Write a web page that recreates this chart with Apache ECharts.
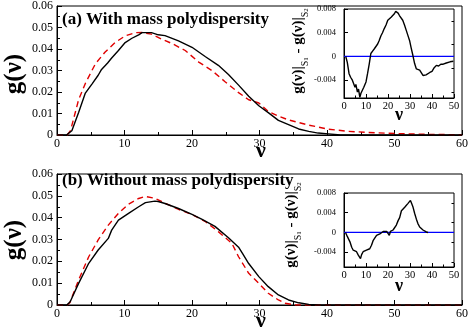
<!DOCTYPE html>
<html><head><meta charset="utf-8">
<script src="https://cdn.jsdelivr.net/npm/echarts@6/dist/echarts.min.js"></script>
<style>html,body{margin:0;padding:0;background:#fff}#c{width:471px;height:332px}</style>
</head><body><div id="c"></div>
<script>
// ---- data ----
const topBlackV = [0,1.4,2.2,3.2,4.2,5.2,6.1,6.6,7.5,8.1,9.1,10.1,11.1,12.1,12.6,14,15,16,18,20,22,23.9,25.4,26.9,28.4,29.9,31.3,32.8,34.3,35.8,37.3,38.7,40.2,42,60];
const topBlackG = [0,0,0.002,0.0105,0.0195,0.0238,0.0278,0.0305,0.0335,0.0358,0.0393,0.043,0.045,0.0466,0.0476,0.0476,0.0466,0.0462,0.0438,0.0408,0.0364,0.0324,0.0281,0.0232,0.018,0.0136,0.0104,0.0068,0.0048,0.0028,0.0017,0.0009,0.0005,0,0];
const topRedV = [0,1.5,2.0,3.2,4.2,5.7,7.1,8.6,10.1,11.6,12.6,14,15.5,17,19,21,22.9,24.9,26.9,28.4,29.9,31.3,32.8,34.3,37.3,40.2,43.2,46.1,49.1,52,55,60];
const topRedG = [0,0,0.002,0.0164,0.024,0.0332,0.0385,0.043,0.0461,0.0476,0.0477,0.0469,0.0446,0.0426,0.0393,0.0339,0.0301,0.0248,0.0197,0.0164,0.0149,0.011,0.0088,0.007,0.0046,0.0027,0.0017,0.0012,0.0008,0.0005,0.0003,0.0001];
const botBlackV = [0,1.45,1.95,3.2,4.7,6.1,7.6,8.1,9.1,10.6,12.1,13.1,14.5,15,16,18,20,21.5,23.4,25.4,26.9,27.5,28.4,29.9,31.3,32.8,34.3,35.8,37.3,38.7,60];
const botBlackG = [0,0,0.0015,0.0099,0.0191,0.0252,0.0305,0.0343,0.0389,0.042,0.045,0.0469,0.0476,0.0474,0.0465,0.0442,0.0415,0.0392,0.036,0.0308,0.0265,0.0235,0.019,0.013,0.0084,0.0046,0.0023,0.001,0.0003,0,0];
const botRedV = [0,1.5,1.9,3.2,4.7,6.1,7.6,9.1,10.6,12.1,13.1,14.5,16,18,20,22,23.9,25.9,26.9,28.4,29.9,31.3,32.8,33.8,35.3,60];
const botRedG = [0,0,0.001,0.0115,0.0221,0.0298,0.0366,0.042,0.0462,0.0488,0.0497,0.0489,0.0466,0.0438,0.0414,0.0382,0.0336,0.0283,0.0221,0.0145,0.0099,0.0054,0.0023,0.0008,0,0];
const insetAV = [0.8,1.5,2.3,3.0,3.8,4.5,5.0,5.4,6.1,6.6,7.2,7.7,8.4,9.0,10,10.7,11.5,12.2,13.0,13.8,15.3,16.0,16.8,17.5,18.3,19.1,19.9,20.6,21.4,22.2,22.9,23.5,24,24.6,25.2,26.0,26.7,27.5,28.3,29.0,29.8,30.5,31.3,32.1,32.9,33.6,34.4,35.1,35.9,36.6,37.3,38.1,39,40,41,42,43,44,45.1,46.5,48.2,49.7];
const insetAG = [0,-0.001,-0.0029,-0.0035,-0.004,-0.0043,-0.0052,-0.0047,-0.006,-0.0055,-0.0069,-0.0062,-0.006,-0.0052,-0.0043,-0.0029,-0.0012,0.0005,0.0009,0.0013,0.0021,0.0027,0.0035,0.004,0.0047,0.0053,0.0061,0.0063,0.0066,0.0069,0.0072,0.0076,0.0078,0.0073,0.0069,0.0066,0.0061,0.0053,0.0044,0.0036,0.0027,0.0015,0.0002,-0.0012,-0.0021,-0.0019,-0.0023,-0.0026,-0.0032,-0.0035,-0.0031,-0.003,-0.0027,-0.0025,-0.0019,-0.0015,-0.0016,-0.0013,-0.0013,-0.0011,-0.0009,-0.0008];
const insetBV = [0.7,1.5,2.7,3.5,4.2,5.0,5.7,6.5,7.0,7.5,8.0,8.7,9.4,10.2,11.0,11.7,12.5,13.3,14.0,14.8,15.5,16.3,17.0,17.8,18.6,19.4,20.0,20.6,21.1,21.6,22.3,23.1,23.8,24.6,25.3,26.1,26.8,27.6,28.4,29.1,29.7,30.2,30.8,31.4,32.1,32.9,33.6,34.4,35.1,35.9,36.6,37.4,38.2];
const insetBG = [0,-0.0008,-0.0019,-0.003,-0.0036,-0.0037,-0.0039,-0.0046,-0.0042,-0.0053,-0.0045,-0.0039,-0.0042,-0.0036,-0.0036,-0.0033,-0.0026,-0.0016,-0.0012,-0.0006,-0.0005,-0.0003,-0.0001,0.0002,0.0001,0.0002,0,-0.0006,0.0002,0.0004,0.0005,0.0007,0.0015,0.0024,0.003,0.0044,0.0047,0.0051,0.0055,0.0059,0.0062,0.0065,0.0058,0.0051,0.0039,0.0027,0.0018,0.0011,0.0007,0.0005,0.0003,0.0001,0];
const zeroV = [0,50];
const zeroG = [0,0];
const insetMajorTicks = [-0.004,0,0.004,0.008];
const insetMinorTicks = [-0.006,-0.002,0.002,0.006];
const titleA = '(a) With mass polydispersity';
const titleB = '(b) Without mass polydispersity';

const zip = (a,b) => a.map((v,i)=>[v,b[i]]);
const FF = "'Liberation Serif','Times New Roman',serif";

function mainX(gi){
  return {type:'value',gridIndex:gi,min:0,max:60,interval:10,
    axisLine:{lineStyle:{color:'#000',width:1}},
    axisTick:{inside:true,length:5,lineStyle:{color:'#000'}},
    minorTick:{show:true,splitNumber:2,length:3,lineStyle:{color:'#000'}},
    splitLine:{show:false},
    axisLabel:{color:'#000',fontFamily:FF,fontSize:12,margin:3}};
}
function mainY(gi){
  return {type:'value',gridIndex:gi,min:0,max:0.06,interval:0.01,
    axisLine:{lineStyle:{color:'#000',width:1}},
    axisTick:{inside:true,length:5,lineStyle:{color:'#000'}},
    minorTick:{show:true,splitNumber:2,length:3,lineStyle:{color:'#000'}},
    splitLine:{show:false},
    axisLabel:{color:'#000',fontFamily:FF,fontSize:12,margin:4,
      formatter:v=>Math.abs(v)<1e-9?'0':v.toFixed(2)}};
}
function insetX(gi){
  return {type:'value',gridIndex:gi,min:0,max:50,interval:10,
    axisLine:{onZero:false,lineStyle:{color:'#000',width:1}},
    axisTick:{inside:true,length:4,lineStyle:{color:'#000'}},
    minorTick:{show:true,splitNumber:2,length:2.5,lineStyle:{color:'#000'}},
    splitLine:{show:false},
    axisLabel:{color:'#000',fontFamily:FF,fontSize:10.5,margin:3}};
}
function insetY(gi, major){
  return {type:'value',gridIndex:gi,min:-0.007,max:0.008,offset:0,
    axisLine:{show:major,onZero:false,lineStyle:{color:'#000',width:1}},
    axisTick:{inside:true,length:major?4:2.5,customValues:major?insetMajorTicks:insetMinorTicks,lineStyle:{color:'#000'}},
    splitLine:{show:false},
    axisLabel:{show:major,color:'#000',fontFamily:FF,fontSize:8.5,margin:8,
      customValues:insetMajorTicks,
      formatter:v=>Math.abs(v)<1e-9?'0':v.toFixed(3)}};
}
const blk = {color:'#000',width:1.4};
const red = {color:'#e00000',width:1.4,type:[6,4]};
const blue = {color:'#0000ff',width:1.2};
function line(xi,yi,data,ls,z){
  return {type:'line',xAxisIndex:xi,yAxisIndex:yi,data,showSymbol:false,symbol:'none',
    lineStyle:ls,z:z||2,animation:false,silent:true};
}
const txt = (text,x,y,size,extra,rot) => ({type:'text',x,y,silent:true,rotation:rot||0,
  style:Object.assign({text,fontFamily:FF,fontSize:size,fontWeight:'bold',fill:'#000',align:'center',verticalAlign:'middle'},extra||{})});

const rich = {
  m:{fontFamily:FF,fontSize:15,fontWeight:'bold',fill:'#000',lineHeight:24,verticalAlign:'middle'},
  s:{fontFamily:FF,fontSize:10,fill:'#000',lineHeight:13,verticalAlign:'bottom'},
  t:{fontFamily:FF,fontSize:7,fill:'#000',lineHeight:8,verticalAlign:'bottom'}
};
const insetTitle = '{m|g(ν)|}{s|S}{t|1}{m| - g(ν)|}{s|S}{t|2}';

const chart = echarts.init(document.getElementById('c'),null,{renderer:'canvas'});
chart.setOption({
  animation:false,
  backgroundColor:'#fff',
  grid:[
    {left:57,top:4,width:406,height:131,show:true,borderColor:'#000',borderWidth:1,backgroundColor:'transparent'},
    {left:57,top:174,width:406,height:131,show:true,borderColor:'#000',borderWidth:1,backgroundColor:'transparent'},
    {left:344,top:9,width:110,height:89,show:true,borderColor:'#000',borderWidth:1,backgroundColor:'#fff',z:3},
    {left:344,top:193,width:110,height:74,show:true,borderColor:'#000',borderWidth:1,backgroundColor:'#fff',z:3}
  ],
  xAxis:[mainX(0),mainX(1),Object.assign(insetX(2),{z:4}),Object.assign(insetX(3),{z:4})],
  yAxis:[mainY(0),mainY(1),Object.assign(insetY(2,true),{z:4}),Object.assign(insetY(2,false),{z:4}),Object.assign(insetY(3,true),{z:4}),Object.assign(insetY(3,false),{z:4})],
  series:[
    line(0,0,zip(topRedV,topRedG),red),
    line(0,0,zip(topBlackV,topBlackG),blk),
    line(1,1,zip(botRedV,botRedG),red),
    line(1,1,zip(botBlackV,botBlackG),blk),
    line(2,2,zip(zeroV,zeroG),blue,5),
    line(2,2,zip(insetAV,insetAG),blk,6),
    line(3,4,zip(zeroV,zeroG),blue,5),
    line(3,4,zip(insetBV,insetBG),blk,6)
  ],
  graphic:[
    txt(titleA,62,19.5,17,{align:'left'}),
    txt(titleB,62,181,17,{align:'left'}),
    txt('g(ν)',15,74,25,{},Math.PI/2),
    txt('g(ν)',15,240,25,{},Math.PI/2),
    txt('ν',261,151.5,22),
    txt('ν',261,321,22),
    txt('ν',399,115.5,18),
    txt('ν',399,286,18),
    {type:'text',x:298,y:51,rotation:Math.PI/2,silent:true,style:{text:insetTitle,rich,align:'center',verticalAlign:'middle'}},
    {type:'text',x:291,y:225,rotation:Math.PI/2,silent:true,style:{text:insetTitle,rich,align:'center',verticalAlign:'middle'}}
  ]
});
</script></body></html>
